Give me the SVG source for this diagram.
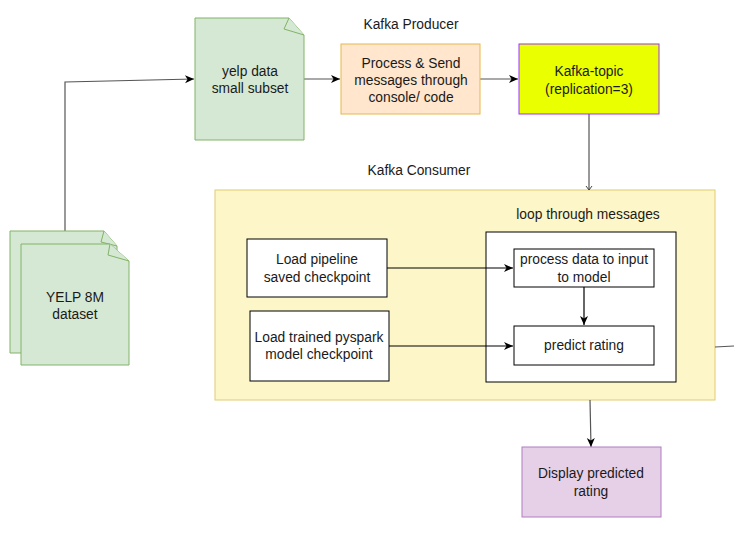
<svg xmlns="http://www.w3.org/2000/svg" width="734" height="540" viewBox="0 0 734 540">
<defs>
<marker id="ah" markerWidth="12" markerHeight="12" refX="10" refY="6" orient="auto" markerUnits="userSpaceOnUse">
<path d="M1,2 L10,6 L1,10 L3.5,6 Z" fill="#000"/>
</marker>
</defs>
<style>
text{font-family:"Liberation Sans",Arial,sans-serif;font-size:13.8px;fill:#1a1a1a;text-anchor:middle}
.doc{fill:#d5e8d4;stroke:#82b366;stroke-width:1}
.plain{fill:#fff;stroke:#000;stroke-width:1}
.c{fill:none;stroke:#000;stroke-width:1.2}
.g{fill:none;stroke:#555;stroke-width:1.2}
</style>
<rect width="734" height="540" fill="#fff"/>

<g id="consumer">
<rect x="215" y="190" width="500" height="210" fill="#fdf6c8" stroke="#e0cc6e"/>
<text x="419" y="175">Kafka Consumer</text>
<text x="588" y="219">loop through messages</text>
</g>
<g id="loop">
<rect class="plain" x="486" y="232" width="190" height="150"/>
</g>

<g id="connectors">
<path class="g" d="M65,231 L65,82 L194,79" marker-end="url(#ah)"/>
<path class="g" d="M304,79 L340,79" marker-end="url(#ah)"/>
<path class="g" d="M480,79 L518,79" marker-end="url(#ah)"/>
<path class="g" d="M589,114 L589,190"/>
<path d="M586,186 L589,190 L592,186" fill="none" stroke="#444"/>
<path class="c" d="M387,268 L513,268" marker-end="url(#ah)"/>
<path class="c" d="M389,346 L513,346" marker-end="url(#ah)"/>
<path class="c" d="M584,287 L584,325" marker-end="url(#ah)"/>
<path class="g" d="M590,400 L591,447" marker-end="url(#ah)"/>
<path class="g" d="M715,347 L734,346"/>
</g>

<g id="yelp8m">
<path class="doc" d="M10,231 L104,231 L117,246 L117,353 L10,353 Z"/>
<path class="doc" d="M104,231 L101,242 L117,246"/>
<path class="doc" d="M21,244 L110,244 L129,261 L129,365 L21,365 Z"/>
<path class="doc" d="M110,244 L108,255 L129,261"/>
<text x="75" y="302">YELP 8M</text>
<text x="75" y="319">dataset</text>
</g>

<g id="subset">
<path class="doc" d="M195,18 L289,18 L304,35 L304,140 L195,140 Z"/>
<path class="doc" d="M289,18 L284,29 L304,35"/>
<text x="250" y="76">yelp data</text>
<text x="250" y="93">small subset</text>
</g>

<g id="producer">
<text x="411" y="29">Kafka Producer</text>
<rect x="341" y="44" width="139" height="70" fill="#ffe6cc" stroke="#e6b84a"/>
<text x="411" y="68">Process &amp; Send</text>
<text x="411" y="85">messages through</text>
<text x="411" y="102">console/ code</text>
</g>

<g id="topic">
<rect x="519" y="44" width="140" height="70" fill="#eaff00" stroke="#9933ff"/>
<text x="589" y="76">Kafka-topic</text>
<text x="589" y="94">(replication=3)</text>
</g>

<g id="pipeline">
<rect class="plain" x="247" y="239" width="140" height="58"/>
<text x="317" y="264">Load pipeline</text>
<text x="317" y="282">saved checkpoint</text>
</g>

<g id="model">
<rect class="plain" x="250" y="311" width="139" height="70"/>
<text x="319" y="342">Load trained pyspark</text>
<text x="319" y="359">model checkpoint</text>
</g>

<g id="process">
<rect class="plain" x="514" y="249" width="140" height="38"/>
<text x="584" y="264">process data to input</text>
<text x="584" y="282">to model</text>
</g>

<g id="predict">
<rect class="plain" x="514" y="326" width="140" height="39"/>
<text x="584" y="350">predict rating</text>
</g>

<g id="display">
<rect x="522" y="447" width="139" height="70" fill="#e6d0e8" stroke="#b07cbf"/>
<text x="591" y="478">Display predicted</text>
<text x="591" y="496">rating</text>
</g>
</svg>
